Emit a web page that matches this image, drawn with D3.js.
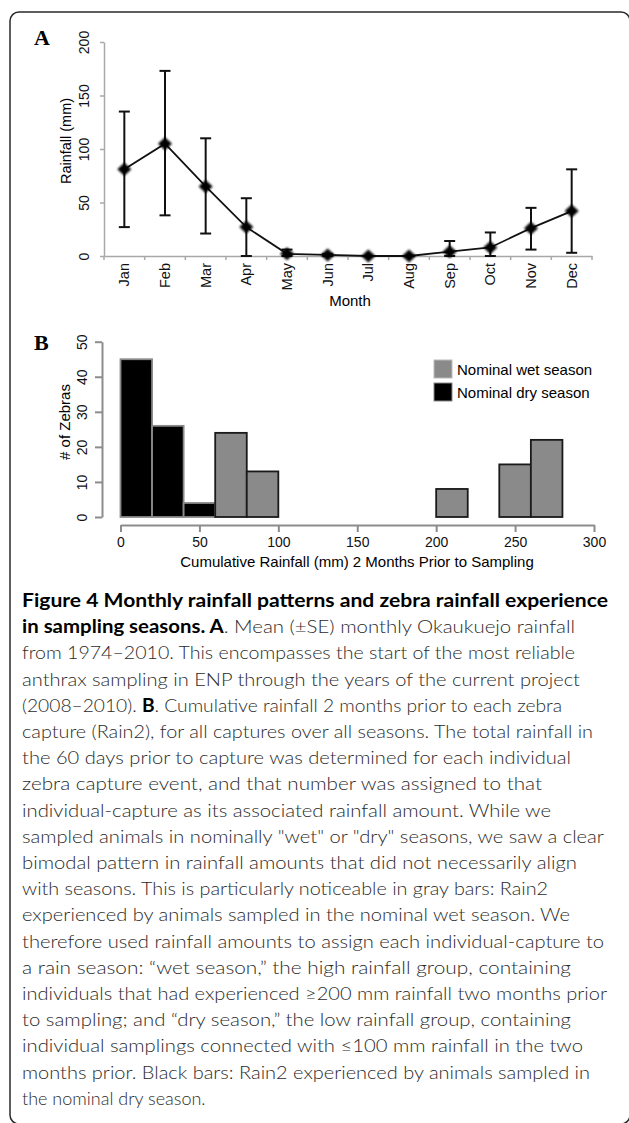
<!DOCTYPE html>
<html>
<head>
<meta charset="utf-8">
<script src="https://cdn.jsdelivr.net/npm/d3@7"></script>
<style>
body { margin: 0; background: #fff; }
svg { display: block; }
.axisA path, .axisA line { stroke: #a8a8a8; stroke-width: 1.5; }
.axisB path, .axisB line { stroke: #8c8c8c; stroke-width: 2; }
.tick text { fill: #111; }
</style>
</head>
<body>
<div id="chart"></div>
<script>
// panel A: monthly rainfall (mean and SE range)
var months = ["Jan","Feb","Mar","Apr","May","Jun","Jul","Aug","Sep","Oct","Nov","Dec"];
var rainMean = [81, 105, 65, 27, 2, 1, 0, 0, 4, 8, 26, 42];
var rainUpper = [135, 173, 110, 54, 6, 2, 0, 0, 14, 22, 45, 81];
var rainLower = [27, 38, 21, 0, 0, 0, 0, 0, 0, 0, 6, 3];
var rainTicks = [0, 50, 100, 150, 200];

// panel B: histogram of cumulative rainfall
var binStart = [0, 20, 40, 60, 80, 200, 240, 260];
var binEnd = [20, 40, 60, 80, 100, 220, 260, 280];
var zebraCount = [45, 26, 4, 24, 13, 8, 15, 22];
var binSeason = ["dry", "dry", "dry", "wet", "wet", "wet", "wet", "wet"];
var countTicks = [0, 10, 20, 30, 40, 50];
var cumTicks = [0, 50, 100, 150, 200, 250, 300];
var legendKeys = ["wet", "dry"];
var legendLabels = ["Nominal wet season", "Nominal dry season"];

// caption, one entry per printed line, [bold?, text] pieces
var captionLines = [
  [[1, "Figure 4 Monthly rainfall patterns and zebra rainfall experience"]],
  [[1, "in sampling seasons. A"], [0, ". Mean (\u00B1SE) monthly Okaukuejo rainfall"]],
  [[0, "from 1974\u20132010. This encompasses the start of the most reliable"]],
  [[0, "anthrax sampling in ENP through the years of the current project"]],
  [[0, "(2008\u20132010). "], [1, "B"], [0, ". Cumulative rainfall 2 months prior to each zebra"]],
  [[0, "capture (Rain2), for all captures over all seasons. The total rainfall in"]],
  [[0, "the 60 days prior to capture was determined for each individual"]],
  [[0, "zebra capture event, and that number was assigned to that"]],
  [[0, "individual-capture as its associated rainfall amount. While we"]],
  [[0, "sampled animals in nominally \"wet\" or \"dry\" seasons, we saw a clear"]],
  [[0, "bimodal pattern in rainfall amounts that did not necessarily align"]],
  [[0, "with seasons. This is particularly noticeable in gray bars: Rain2"]],
  [[0, "experienced by animals sampled in the nominal wet season. We"]],
  [[0, "therefore used rainfall amounts to assign each individual-capture to"]],
  [[0, "a rain season: \u201Cwet season,\u201D the high rainfall group, containing"]],
  [[0, "individuals that had experienced \u2265200 mm rainfall two months prior"]],
  [[0, "to sampling; and \u201Cdry season,\u201D the low rainfall group, containing"]],
  [[0, "individual samplings connected with \u2264100 mm rainfall in the two"]],
  [[0, "months prior. Black bars: Rain2 experienced by animals sampled in"]],
  [[0, "the nominal dry season."]]
];
// right end of each caption line in the page (layout, not data); 0 = natural width
var captionRight = [608, 575, 575, 580, 562, 593, 571, 542, 551, 604,
                    577, 548, 570, 604, 571, 607, 571, 583, 590, 0];

var width = 629, height = 1123;
var sans = "Liberation Sans, Arial, sans-serif";
var serif = "Liberation Serif, Times New Roman, serif";

var svg = d3.select("#chart").append("svg")
  .attr("width", width)
  .attr("height", height);

// frame
svg.append("rect")
  .attr("x", 10).attr("y", 12)
  .attr("width", 620).attr("height", 1112)
  .attr("rx", 9)
  .attr("fill", "none")
  .attr("stroke", "#2a2a2a")
  .attr("stroke-width", 1.5);

var defs = svg.append("defs");
defs.append("filter").attr("id", "soft")
  .append("feGaussianBlur").attr("stdDeviation", 0.8);

// ---------------- Panel A ----------------
var xA = d3.scaleBand().domain(months).range([104, 592]);
var yA = d3.scaleLinear().domain([0, 200]).range([256, 42]);
var gA = svg.append("g");

gA.append("text")
  .attr("x", 34).attr("y", 45)
  .style("font-family", serif)
  .style("font-size", "22px")
  .style("font-weight", 700)
  .text("A");

var yAxisA = gA.append("g")
  .attr("class", "axisA")
  .attr("transform", "translate(104,0)")
  .call(d3.axisLeft(yA).tickValues(rainTicks).tickSize(4).tickSizeOuter(0));
yAxisA.selectAll("text")
  .attr("transform", "rotate(-90)")
  .attr("x", 0).attr("y", -15).attr("dy", null)
  .attr("text-anchor", "middle")
  .style("font-family", sans).style("font-size", "14px");

var xAxisA = gA.append("g")
  .attr("class", "axisA")
  .attr("transform", "translate(0,256)")
  .call(d3.axisBottom(xA).tickSize(0).tickSizeOuter(0));
xAxisA.selectAll("text")
  .attr("transform", "rotate(-90)")
  .attr("x", -7).attr("y", 0).attr("dy", "0.35em")
  .attr("text-anchor", "end")
  .style("font-family", sans).style("font-size", "14.5px");

// tick marks between months
var bounds = months.map(function (m) { return xA(m); }).concat([xA.range()[1]]);
gA.selectAll("line.bound")
  .data(bounds)
  .enter().append("line")
  .attr("class", "bound")
  .attr("x1", function (d) { return d; })
  .attr("x2", function (d) { return d; })
  .attr("y1", 256).attr("y2", 260)
  .attr("stroke", "#a8a8a8").attr("stroke-width", 1.5);

gA.append("text")
  .attr("x", 350).attr("y", 306)
  .attr("text-anchor", "middle")
  .style("font-family", sans).style("font-size", "15px")
  .text("Month");

gA.append("text")
  .attr("transform", "translate(71,141) rotate(-90)")
  .attr("text-anchor", "middle")
  .style("font-family", sans).style("font-size", "14.5px")
  .text("Rainfall (mm)");

var cx = function (i) { return xA(months[i]) + xA.bandwidth() / 2; };

// error bars
var errG = gA.selectAll("g.err")
  .data(months)
  .enter().append("g")
  .attr("class", "err")
  .attr("stroke", "#111")
  .attr("stroke-width", 2);
errG.append("line")
  .attr("x1", function (d, i) { return cx(i); })
  .attr("x2", function (d, i) { return cx(i); })
  .attr("y1", function (d, i) { return yA(rainLower[i]); })
  .attr("y2", function (d, i) { return yA(rainUpper[i]); });
errG.append("line")
  .attr("x1", function (d, i) { return cx(i) - 5.5; })
  .attr("x2", function (d, i) { return cx(i) + 5.5; })
  .attr("y1", function (d, i) { return yA(rainUpper[i]); })
  .attr("y2", function (d, i) { return yA(rainUpper[i]); });
errG.append("line")
  .attr("x1", function (d, i) { return cx(i) - 5.5; })
  .attr("x2", function (d, i) { return cx(i) + 5.5; })
  .attr("y1", function (d, i) { return yA(rainLower[i]); })
  .attr("y2", function (d, i) { return yA(rainLower[i]); });

// mean line
var line = d3.line()
  .x(function (d, i) { return cx(i); })
  .y(function (d) { return yA(d); });
gA.append("path")
  .datum(rainMean)
  .attr("d", line)
  .attr("fill", "none")
  .attr("stroke", "#111")
  .attr("stroke-width", 1.8);

// diamond markers
gA.selectAll("path.pt")
  .data(rainMean)
  .enter().append("path")
  .attr("class", "pt")
  .attr("d", "M0,-6.5L7,0L0,6.5L-7,0Z")
  .attr("transform", function (d, i) { return "translate(" + cx(i) + "," + yA(d) + ")"; })
  .attr("fill", "#000")
  .attr("filter", "url(#soft)");

// ---------------- Panel B ----------------
var xB = d3.scaleLinear().domain([0, 300]).range([120.5, 594]);
var yB = d3.scaleLinear().domain([0, 50]).range([517, 341.7]);
var gB = svg.append("g");

gB.append("text")
  .attr("x", 34).attr("y", 350)
  .style("font-family", serif)
  .style("font-size", "22px")
  .style("font-weight", 700)
  .text("B");

var seasonFill = { wet: "#8a8a8a", dry: "#000" };
var seasonStroke = { wet: "#1a1a1a", dry: "#8a8a8a" };

gB.selectAll("rect.bar")
  .data(zebraCount)
  .enter().append("rect")
  .attr("class", "bar")
  .attr("x", function (d, i) { return xB(binStart[i]); })
  .attr("width", function (d, i) { return xB(binEnd[i]) - xB(binStart[i]); })
  .attr("y", function (d) { return yB(d); })
  .attr("height", function (d) { return yB(0) - yB(d); })
  .attr("fill", function (d, i) { return seasonFill[binSeason[i]]; })
  .attr("stroke", function (d, i) { return seasonStroke[binSeason[i]]; })
  .attr("stroke-width", 1.8);

var yAxisB = gB.append("g")
  .attr("class", "axisB")
  .attr("transform", "translate(102,0)")
  .call(d3.axisLeft(yB).tickValues(countTicks).tickSize(7).tickSizeOuter(0));
yAxisB.selectAll("text")
  .attr("transform", "rotate(-90)")
  .attr("x", 0).attr("y", -15).attr("dy", null)
  .attr("text-anchor", "middle")
  .style("font-family", sans).style("font-size", "14px");

var xAxisB = gB.append("g")
  .attr("class", "axisB")
  .attr("transform", "translate(0,525)")
  .call(d3.axisBottom(xB).tickValues(cumTicks).tickSize(7).tickPadding(5).tickSizeOuter(0));
xAxisB.selectAll("text")
  .style("font-family", sans).style("font-size", "14px");

gB.append("text")
  .attr("x", 357).attr("y", 567)
  .attr("text-anchor", "middle")
  .style("font-family", sans).style("font-size", "15px")
  .text("Cumulative Rainfall (mm) 2 Months Prior to Sampling");

gB.append("text")
  .attr("transform", "translate(70,422) rotate(-90)")
  .attr("text-anchor", "middle")
  .style("font-family", sans).style("font-size", "15px")
  .text("# of Zebras");

var leg = gB.selectAll("g.leg")
  .data(legendKeys)
  .enter().append("g")
  .attr("class", "leg")
  .attr("transform", function (d, i) { return "translate(434," + (360 + i * 23) + ")"; });
leg.append("rect")
  .attr("width", 18).attr("height", 18)
  .attr("fill", function (d) { return seasonFill[d]; })
  .attr("stroke", function (d) { return d === "wet" ? "#bbb" : "#8a8a8a"; })
  .attr("stroke-width", 1);
leg.append("text")
  .attr("x", 23).attr("y", 15)
  .style("font-family", sans).style("font-size", "15px")
  .text(function (d, i) { return legendLabels[i]; });

// ---------------- Caption ----------------
var cap = svg.append("g");
var capText = cap.selectAll("text")
  .data(captionLines)
  .enter().append("text")
  .attr("x", 22)
  .attr("y", function (d, i) { return 607 + i * 26.2; })
  .style("font-family", "Lato, Open Sans, sans-serif")
  .style("font-size", "18px")
  .each(function (d, i) {
    if (captionRight[i] > 0) {
      d3.select(this)
        .attr("textLength", captionRight[i] - 22)
        .attr("lengthAdjust", "spacingAndGlyphs");
    }
  });
capText.selectAll("tspan")
  .data(function (d) { return d; })
  .enter().append("tspan")
  .style("font-weight", function (d) { return d[0] ? 700 : 300; })
  .attr("fill", function (d) { return d[0] ? "#000" : "#2b2b2b"; })
  .text(function (d) { return d[1]; });
</script>
</body>
</html>
